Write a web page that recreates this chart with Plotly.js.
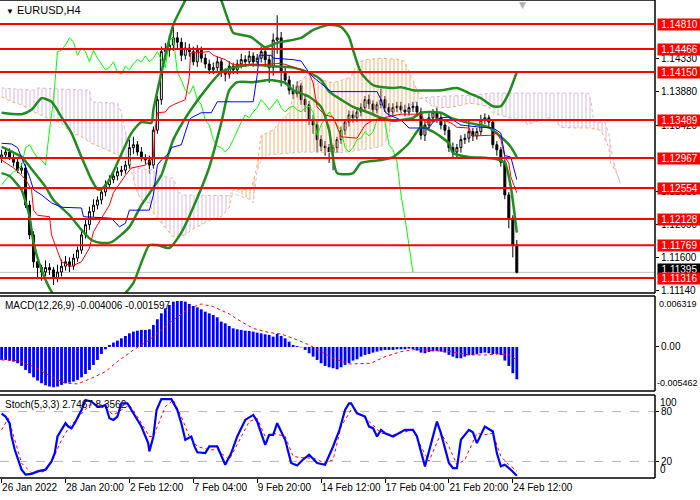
<!DOCTYPE html>
<html><head><meta charset="utf-8">
<script src="https://cdn.plot.ly/plotly-3.0.1.min.js"></script>
<style>html,body{margin:0;padding:0;background:#fff}#chart{width:700px;height:500px}</style>
</head><body><div id="chart"></div>
<script>
// ---------- DATA (EURUSD H4) ----------
const tickIdx = [0,16,32,48,64,80,96,112,128];
const tickLabels = ["26 Jan 2022","28 Jan 20:00","2 Feb 12:00","7 Feb 04:00","9 Feb 20:00","14 Feb 12:00","17 Feb 04:00","21 Feb 20:00","24 Feb 12:00"];

const openP = [1.1296,1.1301,1.1305,1.1297,1.1291,1.1280,1.1283,1.1232,1.1191,1.1154,
1.1146,1.1140,1.1146,1.1143,1.1132,1.1140,1.1148,1.1154,1.1148,1.1159,
1.1170,1.1191,1.1205,1.1223,1.1232,1.1239,1.1250,1.1260,1.1267,1.1272,
1.1278,1.1280,1.1287,1.1311,1.1315,1.1305,1.1297,1.1294,1.1287,1.1335,
1.1377,1.1443,1.1445,1.1452,1.1462,1.1456,1.1438,1.1448,1.1443,1.1429,
1.1445,1.1434,1.1426,1.1418,1.1421,1.1429,1.1415,1.1412,1.1423,1.1418,
1.1426,1.1432,1.1429,1.1437,1.1429,1.1434,1.1443,1.1432,1.1421,1.1459,
1.1462,1.1415,1.1404,1.1390,1.1385,1.1396,1.1377,1.1370,1.1349,1.1342,
1.1322,1.1313,1.1311,1.1305,1.1311,1.1322,1.1335,1.1346,1.1356,1.1352,
1.1360,1.1366,1.1377,1.1371,1.1363,1.1370,1.1377,1.1366,1.1360,1.1366,
1.1368,1.1363,1.1360,1.1366,1.1368,1.1360,1.1328,1.1342,1.1352,1.1360,
1.1352,1.1342,1.1335,1.1311,1.1305,1.1311,1.1322,1.1324,1.1333,1.1327,
1.1333,1.1349,1.1352,1.1346,1.1315,1.1308,1.1291,1.1246,1.1214,1.1177];
const highP = [1.1308,1.1311,1.1310,1.1302,1.1296,1.1290,1.1288,1.1238,1.1196,1.1160,
1.1150,1.1156,1.1152,1.1147,1.1150,1.1157,1.1162,1.1160,1.1165,1.1175,
1.1196,1.1212,1.1230,1.1240,1.1244,1.1256,1.1266,1.1273,1.1278,1.1284,
1.1286,1.1293,1.1322,1.1326,1.1320,1.1312,1.1302,1.1300,1.1340,1.1382,
1.1450,1.1455,1.1466,1.1480,1.1470,1.1462,1.1456,1.1454,1.1450,1.1452,
1.1450,1.1440,1.1432,1.1428,1.1436,1.1434,1.1420,1.1430,1.1428,1.1432,
1.1440,1.1438,1.1444,1.1442,1.1440,1.1450,1.1448,1.1438,1.1468,1.1493,
1.1470,1.1422,1.1410,1.1398,1.1402,1.1400,1.1384,1.1375,1.1356,1.1348,
1.1328,1.1320,1.1316,1.1315,1.1326,1.1340,1.1350,1.1362,1.1362,1.1366,
1.1372,1.1382,1.1384,1.1376,1.1374,1.1392,1.1382,1.1372,1.1372,1.1374,
1.1374,1.1370,1.1372,1.1374,1.1374,1.1366,1.1346,1.1358,1.1364,1.1366,
1.1358,1.1348,1.1340,1.1318,1.1316,1.1328,1.1330,1.1348,1.1338,1.1338,
1.1356,1.1358,1.1356,1.1350,1.1320,1.1312,1.1295,1.1250,1.1218,1.1184];
const lowP = [1.1290,1.1296,1.1294,1.1285,1.1276,1.1275,1.1228,1.1185,1.1146,1.1130,
1.1128,1.1134,1.1136,1.1122,1.1126,1.1134,1.1142,1.1140,1.1143,1.1154,
1.1165,1.1186,1.1198,1.1216,1.1226,1.1233,1.1244,1.1254,1.1262,1.1266,
1.1272,1.1275,1.1282,1.1302,1.1300,1.1292,1.1288,1.1275,1.1282,1.1330,
1.1370,1.1432,1.1436,1.1444,1.1448,1.1430,1.1432,1.1436,1.1424,1.1422,
1.1428,1.1420,1.1412,1.1412,1.1416,1.1408,1.1402,1.1406,1.1412,1.1412,
1.1420,1.1422,1.1424,1.1422,1.1424,1.1428,1.1426,1.1400,1.1410,1.1440,
1.1395,1.1398,1.1384,1.1378,1.1380,1.1370,1.1360,1.1342,1.1330,1.1305,
1.1306,1.1300,1.1290,1.1280,1.1304,1.1316,1.1328,1.1340,1.1345,1.1346,
1.1354,1.1360,1.1364,1.1356,1.1358,1.1365,1.1360,1.1354,1.1354,1.1360,
1.1358,1.1354,1.1355,1.1360,1.1354,1.1322,1.1320,1.1336,1.1346,1.1345,
1.1336,1.1328,1.1305,1.1296,1.1298,1.1304,1.1316,1.1318,1.1320,1.1322,
1.1328,1.1343,1.1340,1.1310,1.1300,1.1285,1.1240,1.1200,1.1160,1.1138];
const closeP = [1.1301,1.1305,1.1297,1.1291,1.1280,1.1283,1.1232,1.1191,1.1154,1.1146,
1.1140,1.1146,1.1143,1.1132,1.1140,1.1148,1.1154,1.1148,1.1159,1.1170,
1.1191,1.1205,1.1223,1.1232,1.1239,1.1250,1.1260,1.1267,1.1272,1.1278,
1.1280,1.1287,1.1311,1.1315,1.1305,1.1297,1.1294,1.1287,1.1335,1.1377,
1.1443,1.1445,1.1452,1.1462,1.1456,1.1438,1.1448,1.1443,1.1429,1.1445,
1.1434,1.1426,1.1418,1.1421,1.1429,1.1415,1.1412,1.1423,1.1418,1.1426,
1.1432,1.1429,1.1437,1.1429,1.1434,1.1443,1.1432,1.1421,1.1459,1.1462,
1.1415,1.1404,1.1390,1.1385,1.1396,1.1377,1.1370,1.1349,1.1342,1.1322,
1.1313,1.1311,1.1305,1.1311,1.1322,1.1335,1.1346,1.1356,1.1352,1.1360,
1.1366,1.1377,1.1371,1.1363,1.1370,1.1377,1.1366,1.1360,1.1366,1.1368,
1.1363,1.1360,1.1366,1.1368,1.1360,1.1328,1.1342,1.1352,1.1360,1.1352,
1.1342,1.1335,1.1311,1.1305,1.1311,1.1322,1.1324,1.1333,1.1327,1.1333,
1.1349,1.1352,1.1346,1.1315,1.1308,1.1291,1.1246,1.1214,1.1177,1.11395];

const levels = [1.14810,1.14466,1.14150,1.13489,1.12967,1.12554,1.12128,1.11769,1.11316];
const priceTicks = [1.11140,1.11600,1.12050,1.12510,1.13420,1.13880,1.14330];

// Bollinger bands
const bbUpX = [0,5,7.5,10,12.5,15,17.5,20,22.5,24,25,27,32.5,35,37.5,38,43,46,48,51,54,55,57,58,62.5,66,69,75,78,82,85,87,88,90,93,98,100,103,110,114,117,120,123,125,127,129];
const bbUp  = [1.1359,1.1357,1.1363,1.1379,1.1374,1.1353,1.1331,1.1298,1.1267,1.1254,1.1254,1.1267,1.1331,1.1346,1.1345,1.1363,1.1480,1.1514,1.1545,1.1555,1.1530,1.1514,1.1482,1.1469,1.1463,1.1449,1.1455,1.1462,1.1473,1.1480,1.1477,1.1463,1.1445,1.1414,1.1397,1.1393,1.1394,1.1390,1.1390,1.1393,1.1386,1.1379,1.1368,1.1368,1.1386,1.1415];
const bbMidX = [0,5,8,11,13,17,20,22.5,25,27.5,32,35,38,40,43,47,52,55,58,62.5,67.5,73,77,80,82,85,88,92,95,98,103,105,110,112.5,117,122,125,127.5,129];
const bbMid  = [1.1312,1.1298,1.1278,1.1257,1.1239,1.1218,1.1198,1.1184,1.1180,1.1181,1.1202,1.1232,1.1256,1.1273,1.1322,1.1360,1.1397,1.1415,1.1421,1.1425,1.1423,1.1421,1.1414,1.1404,1.1388,1.1377,1.1367,1.1359,1.1352,1.1348,1.1352,1.1359,1.1359,1.1352,1.1345,1.1339,1.1326,1.1312,1.1298];
const bbLowX = [0,2,4,5,7,8,10,12.5,16,22,28,31,33,37,39,42,45,48,52,55,57,59,63,67,71,73,77,80,82,84,88,90,95,98,102,105,108,112,113,117,121,124,126,127.5,129];
const bbLow  = [1.1276,1.1272,1.1260,1.1253,1.1216,1.1180,1.1143,1.1113,1.1090,1.1080,1.1095,1.1111,1.1125,1.1177,1.1177,1.1173,1.1194,1.1229,1.1284,1.1345,1.1390,1.1401,1.1401,1.1404,1.1400,1.1390,1.1381,1.1367,1.1335,1.1276,1.1276,1.1290,1.1294,1.1298,1.1317,1.1339,1.1333,1.1317,1.1304,1.1298,1.1297,1.1295,1.1290,1.1257,1.1194];

// Ichimoku lines
const tenkanX = [0,3,5,6,7.5,8,9,12,12.5,14,15,17.5,20,22,23,25,27,28,31,32.5,36,38,38.3,39,41,42,43,46,47,47.3,52,53,56,58,65,70,73,77,78,79,81,83,84,85,89,91,93,97,100,105,106,107.5,109,112.5,114,117,118,122.5,124,125,126,127,127.5,129];
const tenkan  = [1.1294,1.1283,1.1273,1.1267,1.1253,1.1225,1.1218,1.1216,1.1191,1.1168,1.1154,1.1148,1.1154,1.1173,1.1195,1.1214,1.1232,1.1249,1.1273,1.1283,1.1287,1.1297,1.1331,1.1359,1.1360,1.1367,1.1370,1.1377,1.1408,1.1441,1.1443,1.1438,1.1432,1.1425,1.1425,1.1427,1.1422,1.1414,1.1400,1.1367,1.1356,1.1353,1.1339,1.1326,1.1324,1.1342,1.1349,1.1353,1.1357,1.1357,1.1346,1.1346,1.1352,1.1345,1.1339,1.1338,1.1327,1.1328,1.1331,1.1322,1.1298,1.1290,1.1271,1.1249];
const kijunX = [0,2.5,4,5,6,7,8,10,12.5,15,20,20.5,27.5,29.5,31,32,37,38,39,40,42,42.5,45,46,47,47.5,50,52.5,54,63,64,64.5,67.5,68,73,75,77,78,82,82.5,94,95,96,97,100,102,107,108,110,112,113,115,120,123,125,126,127.5,129];
const kijun  = [1.1317,1.1316,1.1311,1.1297,1.1284,1.1271,1.1253,1.1246,1.1235,1.1229,1.1228,1.1216,1.1214,1.1202,1.1207,1.1225,1.1225,1.1246,1.1287,1.1294,1.1304,1.1311,1.1315,1.1333,1.1349,1.1352,1.1359,1.1359,1.1374,1.1374,1.1411,1.1438,1.1438,1.1434,1.1432,1.1430,1.1414,1.1408,1.1390,1.1388,1.1388,1.1377,1.1360,1.1356,1.1349,1.1338,1.1338,1.1346,1.1352,1.1353,1.1349,1.1342,1.1339,1.1338,1.1331,1.1300,1.1298,1.1267];
const chikouShift = 26;
const spanAX = [0,2.5,5,7,12.5,15,17,20,22.5,25,28,30,32,32.5,33,34,35,37,38,40,42,43,46,47.5,50,52.5,55,57,58,62.5,63,64,65,68,70,72,73,74,77.5,80,83,87.5,89,91,95,100,101,102,103,104,105,108,111,113,117,119,122,123,127,130,132,133,137,139,140,143,147,150,152,152.5,154,155];
const spanA  = [1.1381,1.1374,1.1370,1.1363,1.1349,1.1345,1.1333,1.1326,1.1317,1.1311,1.1304,1.1298,1.1294,1.1280,1.1267,1.1249,1.1239,1.1235,1.1221,1.1207,1.1194,1.1188,1.1191,1.1198,1.1205,1.1212,1.1216,1.1229,1.1253,1.1254,1.1264,1.1287,1.1328,1.1335,1.1349,1.1359,1.1383,1.1400,1.1414,1.1404,1.1400,1.1408,1.1427,1.1432,1.1434,1.1432,1.1429,1.1415,1.1404,1.1390,1.1381,1.1367,1.1366,1.1367,1.1372,1.1371,1.1367,1.1359,1.1352,1.1349,1.1342,1.1346,1.1352,1.1346,1.1339,1.1338,1.1338,1.1335,1.1312,1.1290,1.1276,1.1262];
const spanBX = [0,8,9,22,22.5,29,30,31,32,32.5,38,39,43,44,45,57,57.5,62.5,63,64,65,67,75,85,90,93,95,97,97.5,100,105,108,117,123,147,147.5,148,148.3,151,152,153,154,155];
const spanB  = [1.1393,1.1390,1.1393,1.1390,1.1374,1.1372,1.1359,1.1335,1.1308,1.1284,1.1280,1.1273,1.1269,1.1253,1.1246,1.1245,1.1249,1.1239,1.1235,1.1280,1.1294,1.1301,1.1305,1.1304,1.1308,1.1311,1.1312,1.1326,1.1353,1.1360,1.1379,1.1381,1.1383,1.1386,1.1386,1.1377,1.1353,1.1346,1.1346,1.1331,1.1298,1.1276,1.1260];
const cloudSplits = [57.7,105];

// MACD(12,26,9)
const macdHist = [-0.00161,-0.00161,-0.00169,-0.00182,-0.00202,-0.00235,-0.00285,-0.00326,-0.00376,-0.00417,
-0.00450,-0.00475,-0.00491,-0.00500,-0.00491,-0.00471,-0.00450,-0.00442,-0.00430,-0.00409,
-0.00376,-0.00335,-0.00285,-0.00223,-0.00161,-0.00087,-0.00029,0.00025,0.00054,0.00078,
0.00107,0.00136,0.00169,0.00190,0.00202,0.00211,0.00211,0.00219,0.00273,0.00343,
0.00417,0.00479,0.00520,0.00562,0.00570,0.00570,0.00562,0.00533,0.00508,0.00491,
0.00467,0.00438,0.00417,0.00396,0.00368,0.00314,0.00293,0.00260,0.00231,0.00219,
0.00211,0.00202,0.00198,0.00190,0.00178,0.00169,0.00157,0.00149,0.00128,0.00161,
0.00136,0.00107,0.00066,0.00025,0.00012,-0.00004,-0.00037,-0.00078,-0.00120,-0.00161,
-0.00202,-0.00235,-0.00252,-0.00264,-0.00277,-0.00252,-0.00223,-0.00202,-0.00169,-0.00153,
-0.00120,-0.00099,-0.00087,-0.00070,-0.00058,-0.00045,-0.00037,-0.00037,-0.00037,-0.00029,
-0.00029,-0.00029,-0.00021,-0.00029,-0.00045,-0.00070,-0.00078,-0.00062,-0.00054,-0.00050,
-0.00058,-0.00070,-0.00099,-0.00120,-0.00140,-0.00140,-0.00120,-0.00103,-0.00099,-0.00091,
-0.00078,-0.00070,-0.00078,-0.00087,-0.00087,-0.00099,-0.00169,-0.00235,-0.00326,-0.004006];
const macdSigX = [0,4,8,12.5,16,19,22.5,26,29,33,37,40,43,47,50,53,57,60,63,67,70,73,77,80,83,87,92.5,96,100,104,107.5,112.5,117,121,124.5,127,128.5,129];
const macdSig  = [-0.00161,-0.00169,-0.00244,-0.00368,-0.00450,-0.00458,-0.00388,-0.00306,-0.00182,-0.00037,0.00087,0.00211,0.00335,0.00479,0.00533,0.00500,0.00409,0.00314,0.00231,0.00178,0.00161,0.00107,0.00025,-0.00058,-0.00140,-0.00211,-0.00202,-0.00120,-0.00058,-0.00029,-0.00045,-0.00058,-0.00099,-0.00099,-0.00087,-0.00099,-0.00140,-0.001597];
const macdMax = 0.006319, macdMin = -0.005462;

// Stochastic(5,3,3)
const stochX = [0,1,2,2.5,3.3,4.2,5,6,7.5,9,11,12.5,13.3,14,15,16,16.7,17.5,18.3,20,21,22.5,24,25,26,27,28,29,30,31.5,33,35,36.7,37,38,38.8,40,42.5,44,45,46,47.5,48.3,49,51,52,54,56,57.5,59,61,63,64,66,67,68,69,70,71,72.5,74,75.4,77,79,81,83,84.6,86,87,87.5,89,91,92,93,94,95,96,98,101,103,104,106,109,110,112,113,114,115,117,118,119,121,123,124,125,126,127.5,129];
const stochMain = [77.6,74,66,50,34,20,10,4,5,8,10,20,30,50,58,66,62,60,66,82,94,92,86,86,88,72,70,74,90,90,78,62,42,32,50,82,95,95,82,66,46,50,38,31,30,38,38,16,30,50,70,76,68,40,52,52,66,56,46,18,15,22,28,18,16,38,58,82,90,90,78,74,62,60,50,58,54,50,58,58,50,14,68,54,18,12,12,46,58,55,42,62,56,30,14,16,10,2.7467];
const stochSigX = [0,1.7,5,7.5,11,13,15,17,19,22,25,28,30,32,34,37,38,41,43,45,47,49,52,54,57,59,62,64,66,68,71,73,76,78,81,83,85,87.5,89,92.5,95,98,103,105,107,110,112,114,116,119,121,123,125,127,129];
const stochSig = [58,72,18,6,8,24,46,62,72,88,88,76,82,88,74,50,50,86,94,74,50,38,34,34,22,40,68,72,50,54,50,26,24,24,18,22,62,82,80,66,54,52,58,38,20,54,38,16,22,54,52,54,26,16,8.3562];
const stochLevels = [80,20];

// ---------- BUILD ----------
const idx = closeP.map((_, i) => i);
const FONT = 'Liberation Sans, Arial, sans-serif';
const GREEN = 'rgb(34,139,34)';
const THISTLE = 'rgb(216,184,216)';
const SANDY = 'rgb(246,172,110)';

function cloudPoly(lo, hi) {
  const xs = [], ys = [];
  spanAX.forEach((x, k) => { if (x >= lo && x <= hi) { xs.push(x); ys.push(spanA[k]); } });
  for (let k = spanBX.length - 1; k >= 0; k--) {
    if (spanBX[k] >= lo && spanBX[k] <= hi) { xs.push(spanBX[k]); ys.push(spanB[k]); }
  }
  return { xs, ys };
}
function cloudTrace(lo, hi, col) {
  const p = cloudPoly(lo, hi);
  return { type: 'scatter', mode: 'none', x: p.xs, y: p.ys, fill: 'toself',
    fillcolor: 'rgba(0,0,0,0)',
    fillpattern: { shape: '|', fgcolor: col, bgcolor: 'rgba(0,0,0,0)', size: 4, solidity: 0.25 },
    xaxis: 'x', yaxis: 'y', hoverinfo: 'skip' };
}

const traces = [
  cloudTrace(-1, cloudSplits[0], THISTLE),
  cloudTrace(cloudSplits[0], cloudSplits[1], SANDY),
  cloudTrace(cloudSplits[1], 200, THISTLE),
  { type: 'scatter', mode: 'lines', x: spanAX, y: spanA, line: { color: SANDY, width: 1, dash: 'dot' }, yaxis: 'y' },
  { type: 'scatter', mode: 'lines', x: spanBX, y: spanB, line: { color: THISTLE, width: 1, dash: 'dot' }, yaxis: 'y' },
  { type: 'candlestick', x: idx, open: openP, high: highP, low: lowP, close: closeP,
    increasing: { line: { color: 'black', width: 1 }, fillcolor: 'white' },
    decreasing: { line: { color: 'black', width: 1 }, fillcolor: 'black' },
    whiskerwidth: 0, xaxis: 'x', yaxis: 'y', hoverinfo: 'skip' },
  { type: 'scatter', mode: 'lines', x: idx.slice(chikouShift).map(i => i - chikouShift), y: closeP.slice(chikouShift),
    line: { color: '#00ff00', width: 1 }, yaxis: 'y' },
  { type: 'scatter', mode: 'lines', x: bbUpX, y: bbUp, line: { color: GREEN, width: 2.5, shape: 'spline', smoothing: 0.6 }, yaxis: 'y' },
  { type: 'scatter', mode: 'lines', x: bbMidX, y: bbMid, line: { color: GREEN, width: 2.5, shape: 'spline', smoothing: 0.6 }, yaxis: 'y' },
  { type: 'scatter', mode: 'lines', x: bbLowX, y: bbLow, line: { color: GREEN, width: 2.5, shape: 'spline', smoothing: 0.6 }, yaxis: 'y' },
  { type: 'scatter', mode: 'lines', x: tenkanX, y: tenkan, line: { color: '#ff0000', width: 1 }, yaxis: 'y' },
  { type: 'scatter', mode: 'lines', x: kijunX, y: kijun, line: { color: '#0000ff', width: 1 }, yaxis: 'y' },
  // MACD
  { type: 'bar', x: idx, y: macdHist, width: 0.7, marker: { color: '#0000ff', line: { width: 0 } }, yaxis: 'y2', hoverinfo: 'skip' },
  { type: 'scatter', mode: 'lines', x: macdSigX, y: macdSig, line: { color: '#ff0000', width: 1, dash: 'dot' }, yaxis: 'y2' },
  // Stochastic
  { type: 'scatter', mode: 'lines', x: stochSigX, y: stochSig, line: { color: '#ff0000', width: 1, dash: 'dot' }, yaxis: 'y3' },
  { type: 'scatter', mode: 'lines', x: stochX, y: stochMain, line: { color: '#0000ff', width: 2.2 }, yaxis: 'y3' }
];

const H = 478; // plot area height in px (500 - bottom margin)
const dMain = [1 - 293 / H, 1];
const dMacd = [1 - 391 / H, 1 - 296 / H];
const dSto  = [0, 1 - 395 / H];

const shapes = [];
[dMain, dMacd, dSto].forEach(d => {
  shapes.push({ type: 'line', xref: 'paper', yref: 'paper', x0: 0, x1: 1, y0: d[1], y1: d[1], line: { color: 'black', width: 1.5 }, layer: 'above' });
  shapes.push({ type: 'line', xref: 'paper', yref: 'paper', x0: 0, x1: 1, y0: d[0], y1: d[0], line: { color: 'black', width: 1.5 }, layer: 'above' });
  shapes.push({ type: 'line', xref: 'paper', yref: 'paper', x0: 1, x1: 1, y0: d[0], y1: d[1], line: { color: 'black', width: 1.5 }, layer: 'above' });
});
const lastClose = closeP[closeP.length - 1];
shapes.push({ type: 'line', xref: 'paper', yref: 'y', x0: 0, x1: 1, y0: lastClose, y1: lastClose, line: { color: '#c0c0c0', width: 1 }, layer: 'below' });
levels.forEach(v => shapes.push({ type: 'line', xref: 'paper', yref: 'y', x0: 0, x1: 1, y0: v, y1: v, line: { color: '#ff0000', width: 2 }, layer: 'above' }));
stochLevels.forEach(v => shapes.push({ type: 'line', xref: 'paper', yref: 'y3', x0: 0, x1: 1, y0: v, y1: v, line: { color: '#b4b4b4', width: 1, dash: 'dash' }, layer: 'below' }));

const annotations = [
  { xref: 'paper', yref: 'paper', x: 0, y: 1, xanchor: 'left', yanchor: 'top', xshift: 4, yshift: -2, showarrow: false,
    text: '<span style="font-size:8px">▼</span> EURUSD,H4', font: { family: FONT, size: 11, color: 'black' } },
  { xref: 'paper', yref: 'y2 domain', x: 0, y: 1, xanchor: 'left', yanchor: 'top', xshift: 3, yshift: -2, showarrow: false,
    text: 'MACD(12,26,9) ' + macdHist[macdHist.length - 1].toFixed(6) + ' ' + macdSig[macdSig.length - 1].toFixed(6),
    font: { family: FONT, size: 10, color: 'black' } },
  { xref: 'paper', yref: 'y3 domain', x: 0, y: 1, xanchor: 'left', yanchor: 'top', xshift: 3, yshift: -2, showarrow: false,
    text: 'Stoch(5,3,3) ' + stochMain[stochMain.length - 1].toFixed(4) + ' ' + stochSig[stochSig.length - 1].toFixed(4),
    font: { family: FONT, size: 10, color: 'black' } },
  { xref: 'paper', yref: 'y2 domain', x: 1, y: 1, xanchor: 'left', yanchor: 'top', xshift: 2, yshift: -1, showarrow: false,
    text: macdMax.toFixed(6), font: { family: FONT, size: 9, color: 'black' } },
  { xref: 'paper', yref: 'y2 domain', x: 1, y: 0, xanchor: 'left', yanchor: 'bottom', xshift: 0, yshift: 1, showarrow: false,
    text: macdMin.toFixed(6), font: { family: FONT, size: 9, color: 'black' } },
  { xref: 'paper', yref: 'y3 domain', x: 1, y: 1, xanchor: 'left', yanchor: 'top', xshift: 3, yshift: 0, showarrow: false,
    text: '100', font: { family: FONT, size: 10, color: 'black' } },
  { xref: 'paper', yref: 'y3 domain', x: 1, y: 0, xanchor: 'left', yanchor: 'bottom', xshift: 3, yshift: 1, showarrow: false,
    text: '0', font: { family: FONT, size: 10, color: 'black' } },
  { xref: 'x', yref: 'paper', x: 130.5, y: 1, xanchor: 'center', yanchor: 'top', yshift: 2, showarrow: false,
    text: '▼', font: { family: 'DejaVu Sans', size: 9, color: '#b0b0b0' } },
  { xref: 'paper', yref: 'y', x: 1, y: lastClose, xanchor: 'left', xshift: 2, yshift: 3, showarrow: false, width: 43, height: 10,
    bgcolor: 'black', borderpad: 0, text: lastClose.toFixed(5), font: { family: FONT, size: 10, color: 'white' } }
];
levels.forEach(v => annotations.push({ xref: 'paper', yref: 'y', x: 1, y: v, xanchor: 'left', xshift: 2, showarrow: false,
  width: 43, height: 11, bgcolor: '#ff0000', borderpad: 0, text: v.toFixed(5), font: { family: FONT, size: 10, color: 'white' } }));

const axFont = { family: FONT, size: 10, color: 'black' };
const layout = {
  width: 700, height: 500,
  margin: { l: 0, r: 45, t: 0, b: 22 },
  paper_bgcolor: 'white', plot_bgcolor: 'white',
  showlegend: false, hovermode: false,
  xaxis: { domain: [0, 1], range: [-0.4, 163.6], anchor: 'y3', tickvals: tickIdx, ticktext: tickLabels,
    tickangle: 0, ticks: 'outside', ticklen: 4, tickcolor: 'black', ticklabelposition: 'outside right',
    showgrid: false, zeroline: false, showline: false, rangeslider: { visible: false }, tickfont: axFont },
  yaxis: { domain: dMain, range: [1.11111, 1.1514], side: 'right', anchor: 'x', tickvals: priceTicks,
    ticktext: priceTicks.map(v => v.toFixed(5)), ticks: 'outside', ticklen: 3, tickcolor: 'black',
    showgrid: false, zeroline: false, tickfont: axFont },
  yaxis2: { domain: dMacd, range: [macdMin, macdMax], side: 'right', anchor: 'x', tickvals: [0], ticktext: ['0.00'],
    ticks: 'outside', ticklen: 3, tickcolor: 'black', showgrid: false, zeroline: false, tickfont: axFont },
  yaxis3: { domain: dSto, range: [0, 100], side: 'right', anchor: 'x', tickvals: stochLevels, ticktext: stochLevels.map(String),
    ticks: 'outside', ticklen: 3, tickcolor: 'black', showgrid: false, zeroline: false, tickfont: axFont },
  shapes, annotations
};

Plotly.newPlot('chart', traces, layout, { staticPlot: true, displayModeBar: false });
</script></body></html>
